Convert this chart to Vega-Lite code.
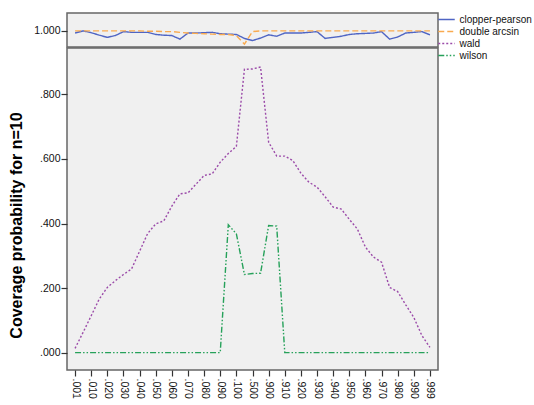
{
  "$schema": "https://vega.github.io/schema/vega-lite/v6.json",
  "padding": {"left": 7, "top": 12, "right": 0, "bottom": 0},
  "datasets": {
    "cov": [
      {"p": ".001", "method": "clopper-pearson", "coverage": 0.994},
      {"p": ".005", "method": "clopper-pearson", "coverage": 1.0},
      {"p": ".010", "method": "clopper-pearson", "coverage": 0.995},
      {"p": ".015", "method": "clopper-pearson", "coverage": 0.988},
      {"p": ".020", "method": "clopper-pearson", "coverage": 0.982},
      {"p": ".025", "method": "clopper-pearson", "coverage": 0.987},
      {"p": ".030", "method": "clopper-pearson", "coverage": 0.998},
      {"p": ".035", "method": "clopper-pearson", "coverage": 0.996},
      {"p": ".040", "method": "clopper-pearson", "coverage": 0.996},
      {"p": ".045", "method": "clopper-pearson", "coverage": 0.996},
      {"p": ".050", "method": "clopper-pearson", "coverage": 0.99},
      {"p": ".055", "method": "clopper-pearson", "coverage": 0.988},
      {"p": ".060", "method": "clopper-pearson", "coverage": 0.987},
      {"p": ".065", "method": "clopper-pearson", "coverage": 0.977},
      {"p": ".070", "method": "clopper-pearson", "coverage": 0.994},
      {"p": ".075", "method": "clopper-pearson", "coverage": 0.994},
      {"p": ".080", "method": "clopper-pearson", "coverage": 0.995},
      {"p": ".085", "method": "clopper-pearson", "coverage": 0.996},
      {"p": ".090", "method": "clopper-pearson", "coverage": 0.992},
      {"p": ".095", "method": "clopper-pearson", "coverage": 0.991},
      {"p": ".100", "method": "clopper-pearson", "coverage": 0.99},
      {"p": ".300", "method": "clopper-pearson", "coverage": 0.979},
      {"p": ".500", "method": "clopper-pearson", "coverage": 0.973},
      {"p": ".700", "method": "clopper-pearson", "coverage": 0.98},
      {"p": ".900", "method": "clopper-pearson", "coverage": 0.989},
      {"p": ".905", "method": "clopper-pearson", "coverage": 0.985},
      {"p": ".910", "method": "clopper-pearson", "coverage": 0.994},
      {"p": ".915", "method": "clopper-pearson", "coverage": 0.994},
      {"p": ".920", "method": "clopper-pearson", "coverage": 0.994},
      {"p": ".925", "method": "clopper-pearson", "coverage": 0.996},
      {"p": ".930", "method": "clopper-pearson", "coverage": 0.998},
      {"p": ".935", "method": "clopper-pearson", "coverage": 0.979},
      {"p": ".940", "method": "clopper-pearson", "coverage": 0.982},
      {"p": ".945", "method": "clopper-pearson", "coverage": 0.985},
      {"p": ".950", "method": "clopper-pearson", "coverage": 0.99},
      {"p": ".955", "method": "clopper-pearson", "coverage": 0.992},
      {"p": ".960", "method": "clopper-pearson", "coverage": 0.993},
      {"p": ".965", "method": "clopper-pearson", "coverage": 0.994},
      {"p": ".970", "method": "clopper-pearson", "coverage": 0.998},
      {"p": ".975", "method": "clopper-pearson", "coverage": 0.977},
      {"p": ".980", "method": "clopper-pearson", "coverage": 0.983},
      {"p": ".985", "method": "clopper-pearson", "coverage": 0.994},
      {"p": ".990", "method": "clopper-pearson", "coverage": 0.996},
      {"p": ".995", "method": "clopper-pearson", "coverage": 0.998},
      {"p": ".999", "method": "clopper-pearson", "coverage": 0.989},

      {"p": ".001", "method": "double arcsin", "coverage": 1.0},
      {"p": ".005", "method": "double arcsin", "coverage": 1.0},
      {"p": ".010", "method": "double arcsin", "coverage": 1.0},
      {"p": ".015", "method": "double arcsin", "coverage": 1.0},
      {"p": ".020", "method": "double arcsin", "coverage": 1.0},
      {"p": ".025", "method": "double arcsin", "coverage": 1.0},
      {"p": ".030", "method": "double arcsin", "coverage": 1.0},
      {"p": ".035", "method": "double arcsin", "coverage": 1.0},
      {"p": ".040", "method": "double arcsin", "coverage": 1.0},
      {"p": ".045", "method": "double arcsin", "coverage": 0.999},
      {"p": ".050", "method": "double arcsin", "coverage": 0.999},
      {"p": ".055", "method": "double arcsin", "coverage": 0.998},
      {"p": ".060", "method": "double arcsin", "coverage": 0.998},
      {"p": ".065", "method": "double arcsin", "coverage": 0.996},
      {"p": ".070", "method": "double arcsin", "coverage": 0.994},
      {"p": ".075", "method": "double arcsin", "coverage": 0.993},
      {"p": ".080", "method": "double arcsin", "coverage": 0.992},
      {"p": ".085", "method": "double arcsin", "coverage": 0.991},
      {"p": ".090", "method": "double arcsin", "coverage": 0.99},
      {"p": ".095", "method": "double arcsin", "coverage": 0.99},
      {"p": ".100", "method": "double arcsin", "coverage": 0.987},
      {"p": ".300", "method": "double arcsin", "coverage": 0.963},
      {"p": ".500", "method": "double arcsin", "coverage": 0.998},
      {"p": ".700", "method": "double arcsin", "coverage": 1.0},
      {"p": ".900", "method": "double arcsin", "coverage": 1.0},
      {"p": ".905", "method": "double arcsin", "coverage": 1.0},
      {"p": ".910", "method": "double arcsin", "coverage": 1.0},
      {"p": ".915", "method": "double arcsin", "coverage": 1.0},
      {"p": ".920", "method": "double arcsin", "coverage": 1.0},
      {"p": ".925", "method": "double arcsin", "coverage": 1.0},
      {"p": ".930", "method": "double arcsin", "coverage": 1.0},
      {"p": ".935", "method": "double arcsin", "coverage": 1.0},
      {"p": ".940", "method": "double arcsin", "coverage": 1.0},
      {"p": ".945", "method": "double arcsin", "coverage": 1.0},
      {"p": ".950", "method": "double arcsin", "coverage": 1.0},
      {"p": ".955", "method": "double arcsin", "coverage": 1.0},
      {"p": ".960", "method": "double arcsin", "coverage": 1.0},
      {"p": ".965", "method": "double arcsin", "coverage": 1.0},
      {"p": ".970", "method": "double arcsin", "coverage": 1.0},
      {"p": ".975", "method": "double arcsin", "coverage": 1.0},
      {"p": ".980", "method": "double arcsin", "coverage": 1.0},
      {"p": ".985", "method": "double arcsin", "coverage": 1.0},
      {"p": ".990", "method": "double arcsin", "coverage": 1.0},
      {"p": ".995", "method": "double arcsin", "coverage": 1.0},
      {"p": ".999", "method": "double arcsin", "coverage": 1.0},

      {"p": ".001", "method": "wald", "coverage": 0.013},
      {"p": ".005", "method": "wald", "coverage": 0.063},
      {"p": ".010", "method": "wald", "coverage": 0.114},
      {"p": ".015", "method": "wald", "coverage": 0.166},
      {"p": ".020", "method": "wald", "coverage": 0.202},
      {"p": ".025", "method": "wald", "coverage": 0.223},
      {"p": ".030", "method": "wald", "coverage": 0.242},
      {"p": ".035", "method": "wald", "coverage": 0.259},
      {"p": ".040", "method": "wald", "coverage": 0.314},
      {"p": ".045", "method": "wald", "coverage": 0.369},
      {"p": ".050", "method": "wald", "coverage": 0.399},
      {"p": ".055", "method": "wald", "coverage": 0.408},
      {"p": ".060", "method": "wald", "coverage": 0.454},
      {"p": ".065", "method": "wald", "coverage": 0.492},
      {"p": ".070", "method": "wald", "coverage": 0.495},
      {"p": ".075", "method": "wald", "coverage": 0.522},
      {"p": ".080", "method": "wald", "coverage": 0.549},
      {"p": ".085", "method": "wald", "coverage": 0.554},
      {"p": ".090", "method": "wald", "coverage": 0.59},
      {"p": ".095", "method": "wald", "coverage": 0.617},
      {"p": ".100", "method": "wald", "coverage": 0.639},
      {"p": ".300", "method": "wald", "coverage": 0.878},
      {"p": ".500", "method": "wald", "coverage": 0.879},
      {"p": ".700", "method": "wald", "coverage": 0.885},
      {"p": ".900", "method": "wald", "coverage": 0.652},
      {"p": ".905", "method": "wald", "coverage": 0.609},
      {"p": ".910", "method": "wald", "coverage": 0.609},
      {"p": ".915", "method": "wald", "coverage": 0.595},
      {"p": ".920", "method": "wald", "coverage": 0.556},
      {"p": ".925", "method": "wald", "coverage": 0.528},
      {"p": ".930", "method": "wald", "coverage": 0.513},
      {"p": ".935", "method": "wald", "coverage": 0.483},
      {"p": ".940", "method": "wald", "coverage": 0.451},
      {"p": ".945", "method": "wald", "coverage": 0.445},
      {"p": ".950", "method": "wald", "coverage": 0.413},
      {"p": ".955", "method": "wald", "coverage": 0.383},
      {"p": ".960", "method": "wald", "coverage": 0.327},
      {"p": ".965", "method": "wald", "coverage": 0.296},
      {"p": ".970", "method": "wald", "coverage": 0.28},
      {"p": ".975", "method": "wald", "coverage": 0.202},
      {"p": ".980", "method": "wald", "coverage": 0.189},
      {"p": ".985", "method": "wald", "coverage": 0.148},
      {"p": ".990", "method": "wald", "coverage": 0.109},
      {"p": ".995", "method": "wald", "coverage": 0.053},
      {"p": ".999", "method": "wald", "coverage": 0.016},

      {"p": ".001", "method": "wilson", "coverage": 0},
      {"p": ".005", "method": "wilson", "coverage": 0},
      {"p": ".010", "method": "wilson", "coverage": 0},
      {"p": ".015", "method": "wilson", "coverage": 0},
      {"p": ".020", "method": "wilson", "coverage": 0},
      {"p": ".025", "method": "wilson", "coverage": 0},
      {"p": ".030", "method": "wilson", "coverage": 0},
      {"p": ".035", "method": "wilson", "coverage": 0},
      {"p": ".040", "method": "wilson", "coverage": 0},
      {"p": ".045", "method": "wilson", "coverage": 0},
      {"p": ".050", "method": "wilson", "coverage": 0},
      {"p": ".055", "method": "wilson", "coverage": 0},
      {"p": ".060", "method": "wilson", "coverage": 0},
      {"p": ".065", "method": "wilson", "coverage": 0},
      {"p": ".070", "method": "wilson", "coverage": 0},
      {"p": ".075", "method": "wilson", "coverage": 0},
      {"p": ".080", "method": "wilson", "coverage": 0},
      {"p": ".085", "method": "wilson", "coverage": 0},
      {"p": ".090", "method": "wilson", "coverage": 0},
      {"p": ".095", "method": "wilson", "coverage": 0.396},
      {"p": ".100", "method": "wilson", "coverage": 0.368},
      {"p": ".300", "method": "wilson", "coverage": 0.242},
      {"p": ".500", "method": "wilson", "coverage": 0.245},
      {"p": ".700", "method": "wilson", "coverage": 0.246},
      {"p": ".900", "method": "wilson", "coverage": 0.394},
      {"p": ".905", "method": "wilson", "coverage": 0.392},
      {"p": ".910", "method": "wilson", "coverage": 0},
      {"p": ".915", "method": "wilson", "coverage": 0},
      {"p": ".920", "method": "wilson", "coverage": 0},
      {"p": ".925", "method": "wilson", "coverage": 0},
      {"p": ".930", "method": "wilson", "coverage": 0},
      {"p": ".935", "method": "wilson", "coverage": 0},
      {"p": ".940", "method": "wilson", "coverage": 0},
      {"p": ".945", "method": "wilson", "coverage": 0},
      {"p": ".950", "method": "wilson", "coverage": 0},
      {"p": ".955", "method": "wilson", "coverage": 0},
      {"p": ".960", "method": "wilson", "coverage": 0},
      {"p": ".965", "method": "wilson", "coverage": 0},
      {"p": ".970", "method": "wilson", "coverage": 0},
      {"p": ".975", "method": "wilson", "coverage": 0},
      {"p": ".980", "method": "wilson", "coverage": 0},
      {"p": ".985", "method": "wilson", "coverage": 0},
      {"p": ".990", "method": "wilson", "coverage": 0},
      {"p": ".995", "method": "wilson", "coverage": 0},
      {"p": ".999", "method": "wilson", "coverage": 0}
    ]
  },
  "data": {"name": "cov"},
  "config": {
    "font": "Liberation Sans",
    "view": {"fill": "#f0f0f0", "stroke": "#666666", "strokeWidth": 1.5},
    "concat": {"spacing": -1.5},
    "axis": {
      "domain": false, "grid": false, "tickColor": "#333333", "tickSize": 6, "tickWidth": 1.2,
      "labelFontSize": 10.5, "labelColor": "#111111", "labelPadding": 1,
      "titleColor": "#000000", "titleFontSize": 13, "titleFontWeight": "bold"
    },
    "legend": {
      "orient": "right", "offset": 1, "padding": 0, "title": null,
      "symbolType": "M-1.5,0H1.5", "symbolSize": 121, "symbolStrokeWidth": 1.5,
      "labelFontSize": 10, "labelColor": "#111111", "labelOffset": 6.5, "rowPadding": 0
    }
  },
  "resolve": {"scale": {"color": "shared", "strokeDash": "shared", "y": "independent"}},
  "vconcat": [
    {
      "width": 371, "height": 34,
      "transform": [{"filter": "datum.method == 'clopper-pearson' || datum.method == 'double arcsin'"}],
      "mark": {"type": "line", "strokeWidth": 1.4},
      "encoding": {
        "x": {"field": "p", "type": "ordinal", "scale": {"type": "point", "padding": 3.08}, "axis": null},
        "y": {"field": "coverage", "type": "quantitative",
              "scale": {"domain": [0.955, 1.05], "nice": false, "zero": false},
              "axis": {"values": [1], "labelExpr": "'1.000'", "title": null}},
        "color": {"field": "method", "type": "nominal",
                  "scale": {"domain": ["clopper-pearson", "double arcsin", "wald", "wilson"],
                            "range": ["#4f65c4", "#f9aa4f", "#9b4ba9", "#26a15a"]},
                  "legend": {"title": null}},
        "strokeDash": {"field": "method", "type": "nominal",
                  "scale": {"domain": ["clopper-pearson", "double arcsin", "wald", "wilson"],
                            "range": [[1, 0], [6, 3], [2, 2], [6, 2, 1.5, 2, 1.5, 2]]},
                  "legend": {"title": null}}
      }
    },
    {
      "width": 371, "height": 322,
      "transform": [{"filter": "datum.method == 'wald' || datum.method == 'wilson'"}],
      "mark": {"type": "line", "strokeWidth": 1.4},
      "encoding": {
        "x": {"field": "p", "type": "ordinal", "scale": {"type": "point", "padding": 3.08},
              "axis": {"values": [".001", ".010", ".020", ".030", ".040", ".050", ".060", ".070", ".080", ".090", ".100", ".500", ".900", ".910", ".920", ".930", ".940", ".950", ".960", ".970", ".980", ".990", ".999"],
                       "labelAngle": 90, "labelPadding": 2, "title": "p", "titlePadding": 4}},
        "y": {"field": "coverage", "type": "quantitative",
              "scale": {"domain": [-0.054, 0.944], "nice": false, "zero": false},
              "axis": {"values": [0, 0.2, 0.4, 0.6, 0.8],
                       "labelExpr": "substring(format(datum.value, '.3f'), 1)",
                       "title": "Coverage probability for n=10",
                       "titleFontSize": 16,
                       "titleAngle": -90, "titleAlign": "center", "titleBaseline": "bottom",
                       "titleX": -43, "titleY": 177}},
        "color": {"field": "method", "type": "nominal",
                  "scale": {"domain": ["clopper-pearson", "double arcsin", "wald", "wilson"],
                            "range": ["#4f65c4", "#f9aa4f", "#9b4ba9", "#26a15a"]},
                  "legend": {"title": null}},
        "strokeDash": {"field": "method", "type": "nominal",
                  "scale": {"domain": ["clopper-pearson", "double arcsin", "wald", "wilson"],
                            "range": [[1, 0], [6, 3], [2, 2], [6, 2, 1.5, 2, 1.5, 2]]},
                  "legend": {"title": null}}
      }
    }
  ]
}
